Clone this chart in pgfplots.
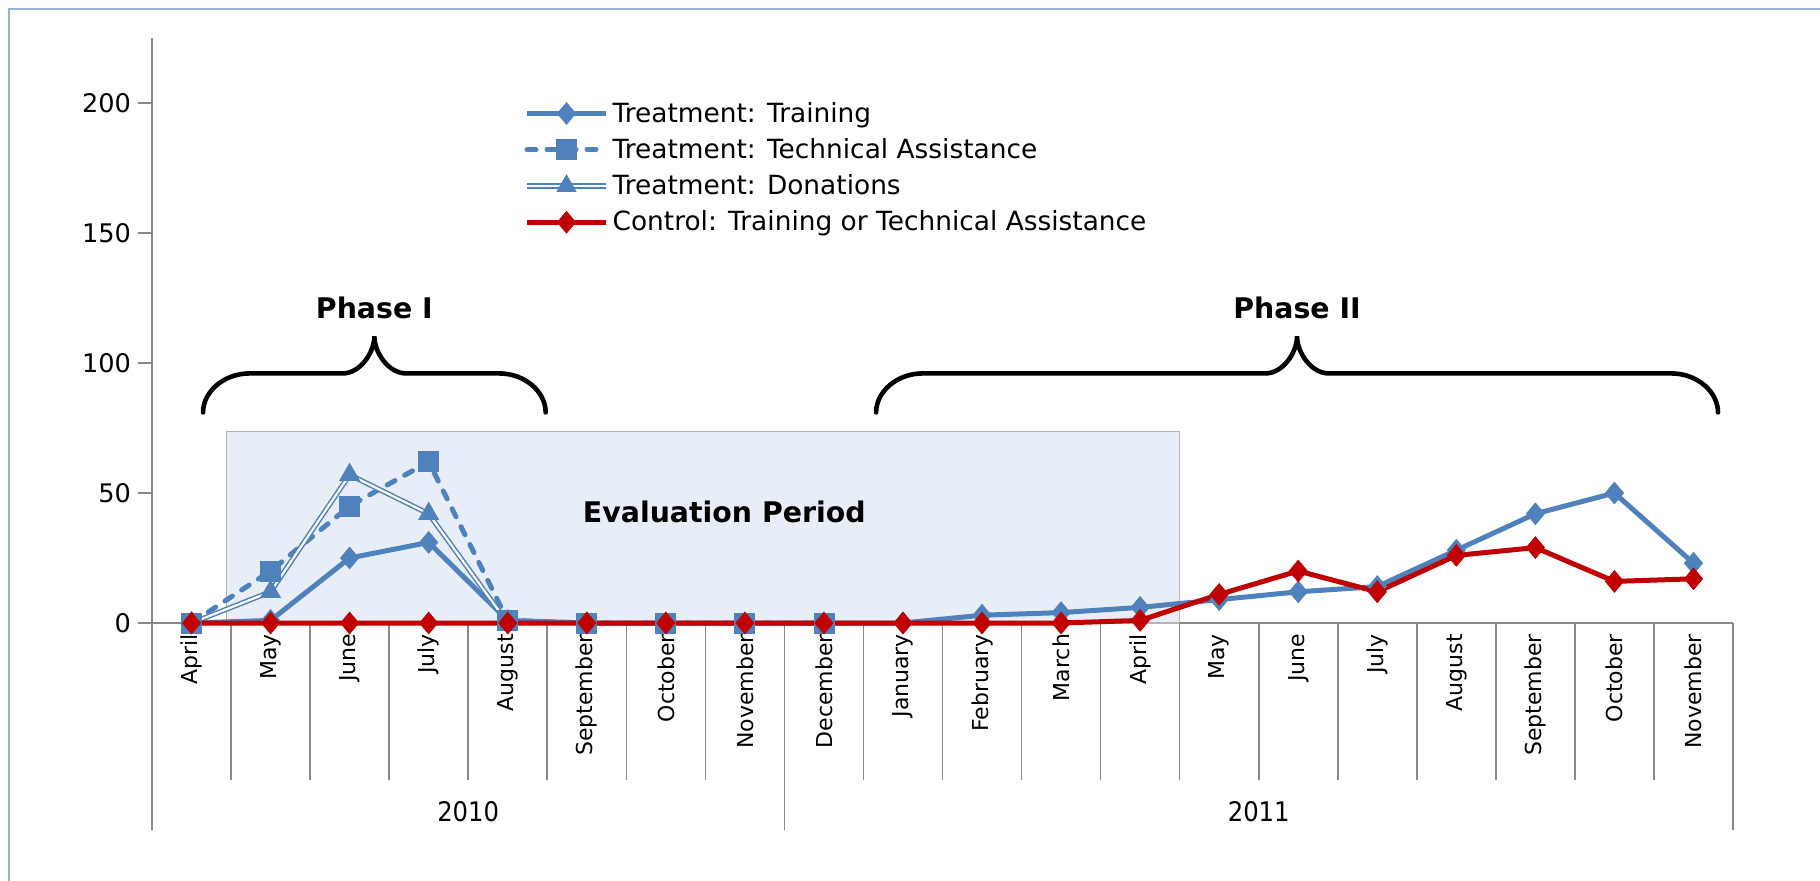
\documentclass[border=0pt]{standalone}
\usepackage{fontspec}
\setmainfont{DejaVu Sans}
\newfontfamily\condfont{DejaVu Sans Condensed}
\usepackage{pgfplots}
\usepackage{pgfplotstable}
\pgfplotsset{compat=1.18}
\definecolor{tblue}{HTML}{4F81BD}
\definecolor{cred}{HTML}{C00000}
\definecolor{axgray}{HTML}{898989}
\definecolor{boxfill}{HTML}{E7EEF7}
\definecolor{boxline}{HTML}{B4B4B4}
\definecolor{frameblue}{HTML}{95B3D7}

\pgfplotstableread{
x y
0 0
1 1
2 25
3 31
4 1
5 0
6 0
7 0
8 0
9 0
10 3
11 4
12 6
13 9
14 12
15 14
16 28
17 42
18 50
19 23
}\training
\pgfplotstableread{
x y
0 0
1 20
2 45
3 62
4 1
5 0
6 0
7 0
8 0
}\techassist
\pgfplotstableread{
x y
0 0
1 12
2 57
3 42
4 0
}\donations
\pgfplotstableread{
x y
0 0
1 0
2 0
3 0
4 0
5 0
6 0
7 0
8 0
9 0
10 0
11 0
12 1
13 11
14 20
15 12
16 26
17 29
18 16
19 17
}\control

\newcommand{\phasebrace}[3]{% #1 left tip, #2 right tip, #3 middle
  \draw[black, line width=2.3pt, line cap=round]
   (axis cs:#1,81) .. controls (axis cs:#1,89) and (axis cs:{#1+0.265},96) .. (axis cs:{#1+0.59},96)
   -- (axis cs:{#3-0.4},96) .. controls (axis cs:{#3-0.18},96) and (axis cs:#3,104) .. (axis cs:#3,110.3)
   .. controls (axis cs:#3,104) and (axis cs:{#3+0.18},96) .. (axis cs:{#3+0.4},96)
   -- (axis cs:{#2-0.59},96) .. controls (axis cs:{#2-0.265},96) and (axis cs:#2,89) .. (axis cs:#2,81);
}

\begin{document}
\begin{tikzpicture}
\begin{axis}[
  scale only axis, width=790.5pt, height=292.5pt,
  at={(0pt,0pt)}, anchor=south west,
  xmin=-0.5, xmax=19.5, ymin=0, ymax=225,
  axis lines*=left,
  axis line style={axgray, line width=0.8pt},
  ytick={0,50,100,150,200},
  tick align=outside, major tick length=7pt,
  y tick style={axgray, line width=0.8pt},
  xtick={0,...,19},
  x tick style={draw=none},
  xticklabel shift=-5pt,
  xticklabels={April,May,June,July,August,September,October,November,December,January,February,March,April,May,June,July,August,September,October,November},
  xticklabel style={rotate=90, anchor=east, font=\fontsize{11}{13}\selectfont},
  yticklabel style={font=\fontsize{12.8}{15}\selectfont},
  /pgf/number format/assume math mode=true,
  clip=false,
  legend cell align=left,
  legend style={draw=none, fill=none, at={(0.2315,0.905)}, anchor=north west,
    font=\fontsize{13.2}{15}\selectfont, row sep=2.6pt},
  legend image code/.code={\draw[mark repeat=2,mark phase=2,#1] plot coordinates {(0pt,0pt) (19.75pt,0pt) (39.5pt,0pt)};},
]
% evaluation period box
\fill[boxfill] (axis cs:0.44,0) rectangle (axis cs:12.5,73.7);
\draw[boxline, line width=0.8pt] (axis cs:0.44,0) rectangle (axis cs:12.5,73.7);
\node[font=\bfseries\fontsize{14.2}{16}\selectfont] at (axis cs:6.74,42.9) {Evaluation Period};

% category separators
\pgfplotsinvokeforeach{0.5,1.5,2.5,3.5,4.5,5.5,6.5,8.5,9.5,10.5,11.5,12.5,13.5,14.5,15.5,16.5,17.5,18.5}{
  \draw[axgray, line width=0.8pt] (axis cs:#1,0) -- ++(0pt,-78.5pt);
}
\pgfplotsinvokeforeach{-0.5,7.5,19.5}{
  \draw[axgray, line width=0.8pt] (axis cs:#1,0) -- ++(0pt,-103.5pt);
}
\node[font=\condfont\fontsize{13.5}{15}\selectfont] at ([yshift=-94.5pt]axis cs:3.5,0) {2010};
\node[font=\condfont\fontsize{13.5}{15}\selectfont] at ([yshift=-94.5pt]axis cs:13.5,0) {2011};

% braces
\phasebrace{0.146}{4.48}{2.313}
\phasebrace{8.66}{19.31}{13.985}
\node[font=\bfseries\fontsize{14.2}{16}\selectfont] at (axis cs:2.313,121) {Phase I};
\node[font=\bfseries\fontsize{14.2}{16}\selectfont] at (axis cs:13.985,121) {Phase II};

\addplot[tblue, line width=2.5pt, mark=diamond*, mark size=5.4pt,
  mark options={solid, fill=tblue, draw=tblue, line width=0.4pt, xscale=1.12}]
  table[x=x, y=y] {\training};
\addlegendentry{Treatment: Training}

\addplot[tblue, line width=2.5pt, line cap=round, dash pattern=on 4.5pt off 5.5pt, mark=square*, mark size=5pt,
  mark options={solid, fill=tblue, draw=tblue, line width=0.4pt}]
  table[x=x, y=y] {\techassist};
\addlegendentry{Treatment: Technical Assistance}

\addplot[forget plot, tblue, double=white, double distance=1.1pt, line width=0.75pt]
  table[x=x, y=y] {\donations};
\addplot[only marks, mark=triangle*, mark size=5.7pt,
  mark options={solid, fill=tblue, draw=tblue, line width=0.4pt},
  legend image code/.code={
    \draw[tblue, double=white, double distance=1.1pt, line width=0.75pt] (0pt,0pt) -- (39.5pt,0pt);
    \draw[fill=tblue, draw=tblue] plot[mark=triangle*, mark size=5.5pt] coordinates {(19.75pt,0pt)};}]
  table[x=x, y=y] {\donations};
\addlegendentry{Treatment: Donations}

\addplot[cred, line width=2.5pt, mark=diamond*, mark size=5.4pt,
  mark options={solid, fill=cred, draw=cred, line width=0.4pt, xscale=1.12}]
  table[x=x, y=y] {\control};
\addlegendentry{Control: Training or Technical Assistance}
\end{axis}
\pgfresetboundingbox
\path[use as bounding box] (-76pt,-128.5pt) rectangle (834pt,311.5pt);
\draw[frameblue, line width=0.8pt] (-71.5pt,-140pt) -- (-71.5pt,307pt) -- (840pt,307pt);
\end{tikzpicture}
\end{document}
